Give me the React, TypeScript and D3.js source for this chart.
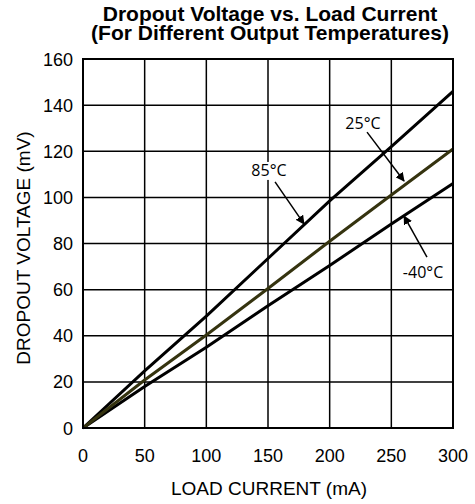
import React, { useEffect, useRef } from "react";
import * as d3 from "d3";

const currents = [0, 50, 100, 150, 200, 250, 300];
const temp85 = [0, 24.8, 48.5, 73.5, 98.5, 122, 146];
const temp25 = [0, 20.8, 40.3, 60.5, 81, 101, 121];
const tempMinus40 = [0, 18, 35, 53, 70.5, 88.5, 106];

const xTicks = [0, 50, 100, 150, 200, 250, 300];
const yTicks = [0, 20, 40, 60, 80, 100, 120, 140, 160];

const series = [
  { name: "85°C", values: temp85, color: "#000000" },
  { name: "-40°C", values: tempMinus40, color: "#000000" },
  { name: "25°C", values: temp25, color: "#35330f" },
];

// label position + arrow in data units
const notes = [
  { text: "85°C", lx: 150.8, ly: 109.3, from: [155.7, 106.7], to: [179.2, 88.5] },
  { text: "25°C", lx: 227, ly: 129.6, from: [230.3, 128.3], to: [260.3, 107.1] },
  { text: "-40°C", lx: 275.7, ly: 65, from: [278.9, 74.1], to: [260.3, 91.9] },
];

export default function App() {
  const svgRef = useRef<SVGSVGElement>(null);
  const width = 475;
  const height = 504;

  useEffect(() => {
    const svg = d3.select(svgRef.current);
    svg.selectAll("*").remove();

    const x = d3.scaleLinear().domain([0, 300]).range([83, 453]);
    const y = d3.scaleLinear().domain([0, 160]).range([428, 59]);
    const font = "Liberation Sans, Arial, sans-serif";

    // title
    const title = svg
      .append("text")
      .attr("text-anchor", "middle")
      .attr("font-family", font)
      .attr("font-weight", 700)
      .attr("font-size", "21px")
      .attr("fill", "#000");
    title.append("tspan").attr("x", 270).attr("y", 20.5).text("Dropout Voltage vs. Load Current");
    title.append("tspan").attr("x", 270).attr("y", 40).text("(For Different Output Temperatures)");

    // grid
    const grid = svg.append("g").attr("stroke", "#000").attr("stroke-width", 1.5);
    xTicks.slice(1, -1).forEach((t) => {
      grid.append("line").attr("x1", x(t)).attr("x2", x(t)).attr("y1", y(0)).attr("y2", y(160));
    });
    yTicks.slice(1, -1).forEach((t) => {
      grid.append("line").attr("x1", x(0)).attr("x2", x(300)).attr("y1", y(t)).attr("y2", y(t));
    });

    // series lines
    const line = d3
      .line<number>()
      .x((_, i) => x(currents[i]))
      .y((d) => y(d));
    series.forEach((s) => {
      svg
        .append("path")
        .attr("d", line(s.values))
        .attr("fill", "none")
        .attr("stroke", s.color)
        .attr("stroke-width", 3);
    });

    // frame
    svg
      .append("rect")
      .attr("x", x(0))
      .attr("y", y(160))
      .attr("width", x(300) - x(0))
      .attr("height", y(0) - y(160))
      .attr("fill", "none")
      .attr("stroke", "#000")
      .attr("stroke-width", 2);

    // tick labels
    svg
      .append("g")
      .selectAll("text")
      .data(xTicks)
      .join("text")
      .attr("x", (d) => x(d))
      .attr("y", 462)
      .attr("text-anchor", "middle")
      .attr("font-family", font)
      .attr("font-size", "18px")
      .text((d) => d);
    svg
      .append("g")
      .selectAll("text")
      .data(yTicks)
      .join("text")
      .attr("x", 73)
      .attr("y", (d) => y(d) + 6.5)
      .attr("text-anchor", "end")
      .attr("font-family", font)
      .attr("font-size", "18px")
      .text((d) => d);

    // axis titles
    svg
      .append("text")
      .attr("x", 269)
      .attr("y", 495)
      .attr("text-anchor", "middle")
      .attr("font-family", font)
      .attr("font-size", "19px")
      .text("LOAD CURRENT (mA)");
    svg
      .append("text")
      .attr("transform", `translate(29.5,248) rotate(-90)`)
      .attr("text-anchor", "middle")
      .attr("font-family", font)
      .attr("font-size", "19px")
      .text("DROPOUT VOLTAGE (mV)");

    // annotations
    const defs = svg.append("defs");
    defs
      .append("marker")
      .attr("id", "head")
      .attr("viewBox", "0 0 10 10")
      .attr("refX", 9)
      .attr("refY", 5)
      .attr("markerWidth", 9)
      .attr("markerHeight", 9)
      .attr("markerUnits", "userSpaceOnUse")
      .attr("orient", "auto")
      .append("path")
      .attr("d", "M0,0L10,5L0,10z")
      .attr("fill", "#000");

    notes.forEach((n) => {
      svg
        .append("rect")
        .attr("x", x(n.lx) - 22)
        .attr("y", y(n.ly) - 14)
        .attr("width", 44)
        .attr("height", 18)
        .attr("fill", "#fff");
      svg
        .append("text")
        .attr("x", x(n.lx))
        .attr("y", y(n.ly))
        .attr("text-anchor", "middle")
        .attr("font-family", "Open Sans, sans-serif")
        .attr("font-size", "16px")
        .text(n.text);
      svg
        .append("line")
        .attr("x1", x(n.from[0]))
        .attr("y1", y(n.from[1]))
        .attr("x2", x(n.to[0]))
        .attr("y2", y(n.to[1]))
        .attr("stroke", "#000")
        .attr("stroke-width", 1.5)
        .attr("marker-end", "url(#head)");
    });
  }, []);

  return (
    <svg
      ref={svgRef}
      width={width}
      height={height}
      style={{ display: "block", position: "absolute", left: 0, top: 0, background: "#fff" }}
    />
  );
}
